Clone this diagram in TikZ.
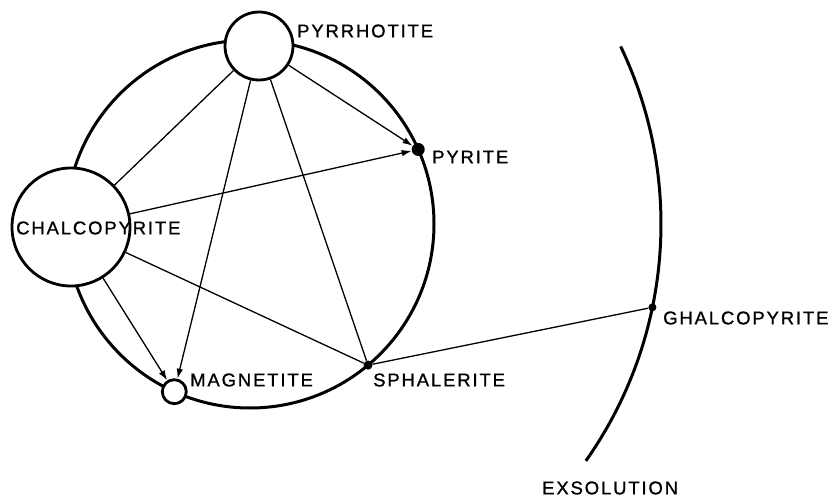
\documentclass[tikz,border=0pt]{standalone}
\usepackage{fontspec}
\setmainfont{Liberation Sans}
\newfontfamily\mineralfont[LetterSpace=10,FakeBold=1]{Liberation Sans}
\usetikzlibrary{arrows.meta}
\begin{document}
\begin{tikzpicture}[
  x=1pt, y=-1pt,
  mineral/.style={circle, draw, line width=2.8pt, fill=white, inner sep=0pt},
  spot/.style={circle, fill, inner sep=0pt},
  mlabel/.style={anchor=west, inner sep=0pt, font=\mineralfont\fontsize{18.5}{18.5}\selectfont},
  link/.style={line width=1.3pt},
  arrow/.style={link, -{Latex[length=10pt,width=6.5pt]}}
]
\useasboundingbox (0,0) rectangle (830,500);
\coordinate (centre) at (250,224);
\draw[line width=3pt] (centre) circle[radius=184];
\draw[line width=3pt] ([shift={(-25.6:411)}]centre) arc[start angle=-25.6, end angle=35.2, radius=411];
\node[mineral, minimum size=68pt] (pyrrhotite) at (259,46) {};
\node[mineral, minimum size=118pt] (chalcopyrite) at (71,227) {};
\node[mineral, minimum size=24pt] (magnetite) at ([shift={(114.3:184)}]centre) {};
\node[spot, minimum size=13pt] (pyrite) at ([shift={(-23.9:184)}]centre) {};
\node[spot, minimum size=9pt] (sphalerite) at ([shift={(50.1:184)}]centre) {};
\node[spot, minimum size=8pt] (exsolved) at ([shift={(11.7:411)}]centre) {};
\draw[arrow] (pyrrhotite) -- (pyrite);
\draw[arrow] (chalcopyrite) -- (pyrite);
\draw[arrow] (pyrrhotite) -- (magnetite);
\draw[arrow] (chalcopyrite) -- (magnetite);
\draw[link] (pyrrhotite) -- (chalcopyrite);
\draw[link] (pyrrhotite) -- (sphalerite);
\draw[link] (chalcopyrite) -- (sphalerite);
\draw[link] (sphalerite) -- (exsolved);
\node[mlabel] (pyrrhotitelbl) at (297,31) {PYRRHOTITE};
\node[mlabel] (pyritelbl) at (432,157) {PYRITE};
\node[mlabel] (chalcopyritelbl) at (16,228) {CHALCOPYRITE};
\node[mlabel] (magnetitelbl) at (190,380) {MAGNETITE};
\node[mlabel] (sphaleritelbl) at (373,380) {SPHALERITE};
\node[mlabel] (exsolvedlbl) at (663,318) {GHALCOPYRITE};
\node[mlabel] (exsolutionlbl) at (542,488) {EXSOLUTION};
\end{tikzpicture}
\end{document}
